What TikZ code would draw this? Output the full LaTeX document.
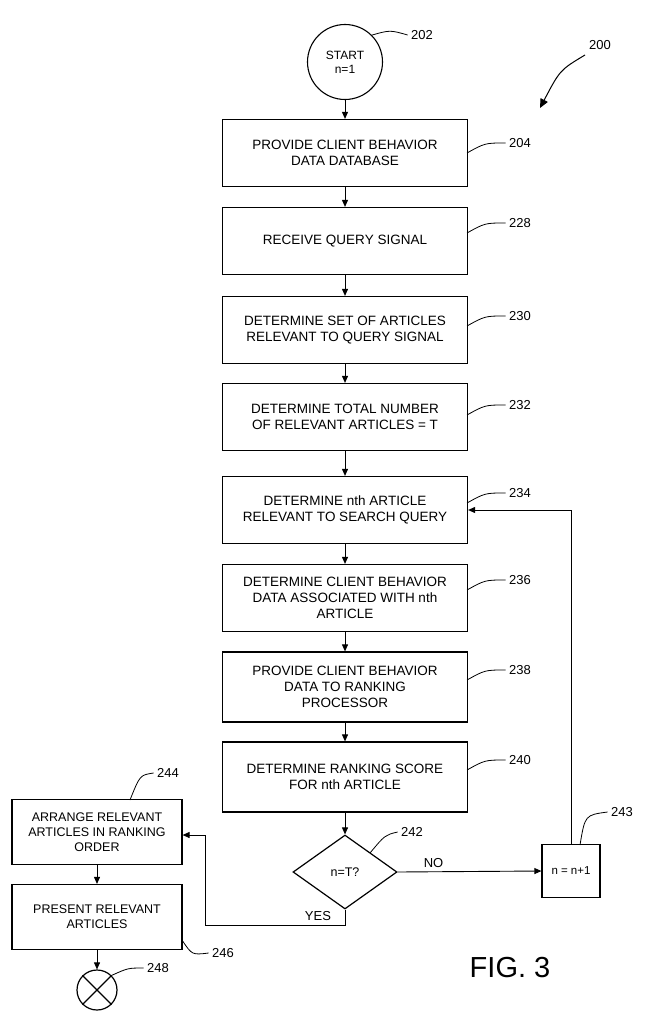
\documentclass[tikz,border=0pt]{standalone}
\usepackage{fontspec}
\setmainfont{Liberation Sans}
\usetikzlibrary{shapes.geometric,arrows.meta}
\begin{document}
\begin{tikzpicture}[x=1pt,y=-1pt,
  box/.style={draw,line width=1.2pt,minimum width=245pt,minimum height=67pt,align=center,font=\fontsize{13.5}{16}\selectfont},
  sbox/.style={draw,line width=1.2pt,minimum width=170pt,minimum height=65pt,align=center,font=\fontsize{12.5}{15}\selectfont},
  lab/.style={font=\fontsize{13}{15}\selectfont},
  ar/.style={-{Triangle[length=7pt,width=6pt]},line width=0.9pt},
  ld/.style={line width=0.8pt}]
\useasboundingbox (0,0) rectangle (658,1024);
\node[draw,circle,line width=1.1pt,minimum size=75pt,align=center,font=\fontsize{12}{14}\selectfont] (s) at (345,62) {START\\n=1};
\node[box] (b204) at (345,153) {PROVIDE CLIENT BEHAVIOR\\DATA DATABASE};
\node[box] (b228) at (345,241) {RECEIVE QUERY SIGNAL};
\node[box] (b230) at (345,330) {DETERMINE SET OF ARTICLES\\RELEVANT TO QUERY SIGNAL};
\node[box] (b232) at (345,417) {DETERMINE TOTAL NUMBER\\OF RELEVANT ARTICLES = T};
\node[box] (b234) at (345,510) {DETERMINE nth ARTICLE\\RELEVANT TO SEARCH QUERY};
\node[box] (b236) at (345,598) {DETERMINE CLIENT BEHAVIOR\\DATA ASSOCIATED WITH nth\\ARTICLE};
\node[box,minimum height=70pt] (b238) at (345,687) {PROVIDE CLIENT BEHAVIOR\\DATA TO RANKING\\PROCESSOR};
\node[box,minimum height=70pt] (b240) at (345,777) {DETERMINE RANKING SCORE\\FOR nth ARTICLE};
\node[draw,diamond,aspect=1.4,line width=1.2pt,minimum width=104pt,minimum height=74pt,inner sep=0pt,font=\fontsize{12.5}{14}\selectfont] (d) at (345,872) {n=T?};
\node[draw,line width=1.2pt,minimum width=58pt,minimum height=53pt,font=\fontsize{11.5}{13}\selectfont] (b243) at (571,871) {n = n+1};
\node[sbox] (b244) at (97,832) {ARRANGE RELEVANT\\ARTICLES IN RANKING\\ORDER};
\node[sbox] (b246) at (97,917) {PRESENT RELEVANT\\ARTICLES};
\node[draw,circle,line width=1.2pt,minimum size=40pt,inner sep=0pt] (e) at (97,990) {};
\draw[line width=1.2pt] (e.45)--(e.225) (e.135)--(e.315);
% arrows
\draw[ar] (s)--(b204);
\draw[ar] (b204)--(b228);
\draw[ar] (b228)--(b230);
\draw[ar] (b230)--(b232);
\draw[ar] (b232)--(b234);
\draw[ar] (b234)--(b236);
\draw[ar] (b236)--(b238);
\draw[ar] (b238)--(b240);
\draw[ar] (b240)--(d);
\draw[ar] (d.east)--(b243.west) node[lab,pos=0.25,above] {NO};
\draw[ar] (b243.north)--(571,510)--(b234.east);
\coordinate (c1) at (345,925); \coordinate (c2) at (205,925);
\draw[ar] (d.south)--(c1)--(c2)--(205,835)--(b244.east|-0,835);
\node[lab] at (318,916) {YES};
\draw[ar] (b244)--(b246);
\draw[ar] (b246)--(e);
% labels
\node[lab] (l202) at (422,35) {202};
\draw[ld] (s.45) .. controls (390,30) .. (l202.west);
\node[lab] (l204) at (520,143) {204};
\draw[ld] (467,153) .. controls (485,143) .. (l204.west);
\node[lab] (l228) at (520,223) {228};
\draw[ld] (467,233) .. controls (485,223) .. (l228.west);
\node[lab] (l230) at (520,316) {230};
\draw[ld] (467,326) .. controls (485,316) .. (l230.west);
\node[lab] (l232) at (520,405) {232};
\draw[ld] (467,415) .. controls (485,405) .. (l232.west);
\node[lab] (l234) at (520,493) {234};
\draw[ld] (467,503) .. controls (485,493) .. (l234.west);
\node[lab] (l236) at (520,580) {236};
\draw[ld] (467,590) .. controls (485,580) .. (l236.west);
\node[lab] (l238) at (520,670) {238};
\draw[ld] (467,680) .. controls (485,670) .. (l238.west);
\node[lab] (l240) at (520,760) {240};
\draw[ld] (467,770) .. controls (485,760) .. (l240.west);
\node[lab] (l242) at (412,832) {242};
\draw[ld] (370,853) .. controls (385,835) .. (l242.west);
\node[lab] (l243) at (622,812) {243};
\draw[ld] (580,845) .. controls (585,815) .. (l243.west);
\node[lab] (l244) at (168,773) {244};
\draw[ld] (130,800) .. controls (140,775) .. (l244.west);
\node[lab] (l246) at (223,953) {246};
\draw[ld] (182,940) .. controls (192,955) .. (l246.west);
\node[lab] (l248) at (158,968) {248};
\draw[ld] (e.45) .. controls (128,968) .. (l248.west);
\node[lab] (l200) at (600,45) {200};
\coordinate (a200) at (540,108);
\draw[-{Triangle[length=9pt,width=8pt]},line width=1pt] (585,55) .. controls (560,70) .. (a200);
\node[font=\fontsize{29}{32}\selectfont] (fig) at (510,968) {FIG. 3};
\end{tikzpicture}
\end{document}
